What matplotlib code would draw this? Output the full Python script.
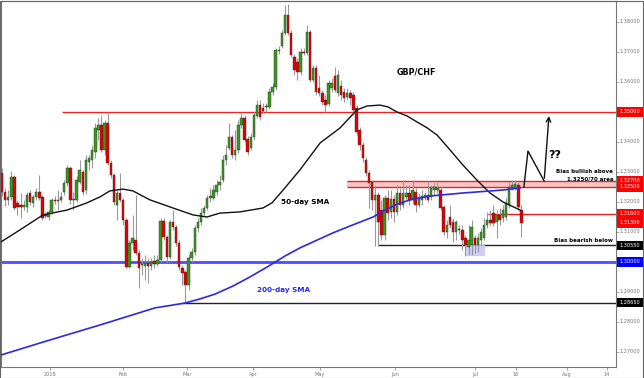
# ============================================================
# GBP/CHF daily candlestick chart with SMAs and key levels
# ============================================================

import matplotlib.pyplot as plt
from matplotlib.patches import Rectangle

# -----------------------------
# 1. Candle data
# -----------------------------
opens = [
    1.3296, 1.3233, 1.3206, 1.3216, 1.3283, 1.3196, 1.3190, 1.3183, 1.3183, 1.3230,
    1.3196, 1.3216, 1.3233, 1.3216, 1.3156, 1.3150, 1.3166, 1.3206, 1.3206, 1.3206,
    1.3233, 1.3263, 1.3313, 1.3206, 1.3206, 1.3266, 1.3300, 1.3240, 1.3333, 1.3340,
    1.3366, 1.3440, 1.3456, 1.3373, 1.3463, 1.3330, 1.3290, 1.3190, 1.3230, 1.3206,
    1.3140, 1.2983, 1.3063, 1.3073, 1.3030, 1.2990, 1.2986, 1.2996, 1.2986, 1.3003,
    1.2993, 1.3006, 1.3136, 1.3083, 1.3016, 1.3133, 1.3116, 1.3063, 1.2980, 1.2966,
    1.2923, 1.3013, 1.3033, 1.3113, 1.3133, 1.3163, 1.3180, 1.3213, 1.3213, 1.3233,
    1.3256, 1.3273, 1.3340, 1.3380, 1.3416, 1.3356, 1.3373, 1.3456, 1.3480, 1.3410,
    1.3380, 1.3416, 1.3486, 1.3523, 1.3513, 1.3516, 1.3516, 1.3566, 1.3583, 1.3703,
    1.3720, 1.3763, 1.3823, 1.3763, 1.3683, 1.3666, 1.3633, 1.3700, 1.3696, 1.3766,
    1.3606, 1.3646, 1.3580, 1.3563, 1.3540, 1.3526, 1.3580, 1.3620, 1.3563, 1.3586,
    1.3566, 1.3550, 1.3563, 1.3556, 1.3513, 1.3440, 1.3390, 1.3340, 1.3296, 1.3266,
    1.3206, 1.3223, 1.3173, 1.3090, 1.3213, 1.3166, 1.3210, 1.3166, 1.3230, 1.3190,
    1.3216, 1.3230, 1.3206, 1.3233, 1.3190, 1.3206, 1.3213, 1.3223, 1.3216, 1.3240,
    1.3240, 1.3240, 1.3183, 1.3100, 1.3150, 1.3133, 1.3100, 1.3110, 1.3106, 1.3080,
    1.3050, 1.3056, 1.3080, 1.3056, 1.3073, 1.3080, 1.3123, 1.3140, 1.3163, 1.3133,
    1.3156, 1.3146, 1.3150, 1.3190, 1.3246, 1.3250, 1.3256, 1.3173,
]
highs = [
    1.3313, 1.3246, 1.3240, 1.3303, 1.3290, 1.3206, 1.3230, 1.3206, 1.3233, 1.3240,
    1.3223, 1.3246, 1.3290, 1.3223, 1.3166, 1.3173, 1.3213, 1.3220, 1.3240, 1.3233,
    1.3273, 1.3323, 1.3320, 1.3233, 1.3286, 1.3340, 1.3306, 1.3356, 1.3356, 1.3390,
    1.3463, 1.3480, 1.3490, 1.3473, 1.3496, 1.3340, 1.3296, 1.3240, 1.3296, 1.3213,
    1.3146, 1.3073, 1.3156, 1.3223, 1.3040, 1.3013, 1.3023, 1.3013, 1.3013, 1.3023,
    1.3023, 1.3146, 1.3146, 1.3090, 1.3140, 1.3173, 1.3123, 1.3073, 1.2990, 1.2973,
    1.3023, 1.3046, 1.3123, 1.3146, 1.3180, 1.3190, 1.3223, 1.3246, 1.3256, 1.3273,
    1.3290, 1.3356, 1.3390, 1.3463, 1.3423, 1.3440, 1.3473, 1.3496, 1.3490, 1.3420,
    1.3430, 1.3500, 1.3540, 1.3540, 1.3530, 1.3530, 1.3580, 1.3596, 1.3713, 1.3720,
    1.3773, 1.3856, 1.3860, 1.3773, 1.3693, 1.3680, 1.3713, 1.3713, 1.3790, 1.3773,
    1.3656, 1.3656, 1.3623, 1.3573, 1.3556, 1.3606, 1.3613, 1.3650, 1.3640, 1.3606,
    1.3580, 1.3580, 1.3573, 1.3566, 1.3523, 1.3450, 1.3400, 1.3350, 1.3306, 1.3273,
    1.3256, 1.3233, 1.3206, 1.3223, 1.3240, 1.3240, 1.3223, 1.3256, 1.3246, 1.3273,
    1.3256, 1.3256, 1.3273, 1.3246, 1.3230, 1.3240, 1.3233, 1.3270, 1.3256, 1.3263,
    1.3266, 1.3250, 1.3190, 1.3140, 1.3190, 1.3146, 1.3140, 1.3123, 1.3123, 1.3090,
    1.3123, 1.3140, 1.3090, 1.3096, 1.3113, 1.3146, 1.3166, 1.3173, 1.3190, 1.3173,
    1.3180, 1.3190, 1.3213, 1.3266, 1.3273, 1.3273, 1.3266, 1.3190,
]
lows = [
    1.3220, 1.3186, 1.3190, 1.3206, 1.3173, 1.3156, 1.3146, 1.3173, 1.3166, 1.3190,
    1.3183, 1.3206, 1.3206, 1.3140, 1.3146, 1.3140, 1.3160, 1.3193, 1.3173, 1.3200,
    1.3223, 1.3253, 1.3193, 1.3173, 1.3200, 1.3260, 1.3223, 1.3226, 1.3306, 1.3313,
    1.3346, 1.3406, 1.3366, 1.3356, 1.3323, 1.3280, 1.3190, 1.3140, 1.3200, 1.3123,
    1.2980, 1.2980, 1.3040, 1.3023, 1.2913, 1.2956, 1.2940, 1.2930, 1.2973, 1.2980,
    1.2986, 1.3000, 1.3073, 1.3000, 1.3010, 1.3106, 1.3053, 1.2973, 1.2923, 1.2863,
    1.2906, 1.3000, 1.3023, 1.3100, 1.3123, 1.3153, 1.3173, 1.3200, 1.3206, 1.3223,
    1.3240, 1.3266, 1.3323, 1.3373, 1.3346, 1.3340, 1.3363, 1.3446, 1.3400, 1.3356,
    1.3373, 1.3406, 1.3480, 1.3473, 1.3496, 1.3500, 1.3510, 1.3556, 1.3573, 1.3693,
    1.3713, 1.3756, 1.3756, 1.3683, 1.3623, 1.3606, 1.3623, 1.3690, 1.3690, 1.3600,
    1.3600, 1.3556, 1.3553, 1.3523, 1.3500, 1.3520, 1.3566, 1.3566, 1.3553, 1.3540,
    1.3533, 1.3540, 1.3523, 1.3490, 1.3423, 1.3373, 1.3333, 1.3286, 1.3180, 1.3173,
    1.3053, 1.3053, 1.3073, 1.3073, 1.3140, 1.3146, 1.3133, 1.3156, 1.3173, 1.3180,
    1.3206, 1.3190, 1.3196, 1.3166, 1.3183, 1.3190, 1.3206, 1.3200, 1.3206, 1.3223,
    1.3230, 1.3173, 1.3090, 1.3080, 1.3113, 1.3066, 1.3073, 1.3093, 1.3040, 1.3020,
    1.3023, 1.3023, 1.3030, 1.3033, 1.3056, 1.3073, 1.3113, 1.3120, 1.3120, 1.3080,
    1.3123, 1.3133, 1.3140, 1.3180, 1.3240, 1.3240, 1.3173, 1.3083,
]
closes = [
    1.3233, 1.3206, 1.3216, 1.3283, 1.3180, 1.3183, 1.3183, 1.3190, 1.3223, 1.3200,
    1.3216, 1.3233, 1.3213, 1.3146, 1.3153, 1.3166, 1.3206, 1.3203, 1.3204, 1.3216,
    1.3263, 1.3313, 1.3206, 1.3210, 1.3273, 1.3306, 1.3233, 1.3340, 1.3346, 1.3373,
    1.3446, 1.3456, 1.3373, 1.3463, 1.3330, 1.3290, 1.3200, 1.3230, 1.3206, 1.3140,
    1.2983, 1.3063, 1.3080, 1.3030, 1.2980, 1.2993, 1.2996, 1.2986, 1.3000, 1.2993,
    1.3006, 1.3136, 1.3083, 1.3016, 1.3133, 1.3116, 1.3063, 1.2983, 1.2963, 1.2923,
    1.3013, 1.3033, 1.3113, 1.3133, 1.3163, 1.3180, 1.3213, 1.3220, 1.3240, 1.3256,
    1.3266, 1.3340, 1.3356, 1.3416, 1.3356, 1.3373, 1.3456, 1.3480, 1.3406, 1.3366,
    1.3416, 1.3490, 1.3523, 1.3483, 1.3503, 1.3520, 1.3566, 1.3583, 1.3706, 1.3706,
    1.3763, 1.3823, 1.3763, 1.3690, 1.3640, 1.3633, 1.3700, 1.3696, 1.3766, 1.3606,
    1.3646, 1.3566, 1.3563, 1.3533, 1.3523, 1.3596, 1.3596, 1.3573, 1.3623, 1.3556,
    1.3546, 1.3563, 1.3546, 1.3506, 1.3433, 1.3390, 1.3346, 1.3296, 1.3263, 1.3206,
    1.3223, 1.3133, 1.3090, 1.3213, 1.3163, 1.3210, 1.3166, 1.3230, 1.3190, 1.3230,
    1.3230, 1.3206, 1.3240, 1.3190, 1.3213, 1.3220, 1.3223, 1.3206, 1.3246, 1.3250,
    1.3246, 1.3180, 1.3100, 1.3123, 1.3123, 1.3100, 1.3133, 1.3106, 1.3073, 1.3056,
    1.3073, 1.3116, 1.3056, 1.3080, 1.3100, 1.3123, 1.3140, 1.3130, 1.3130, 1.3156,
    1.3140, 1.3173, 1.3196, 1.3250, 1.3256, 1.3260, 1.3183, 1.3130,
]

# Moving averages, read at bar index positions
sma50_idx = [-0.3, 5.8, 13.2, 20.9, 27.3, 31.5, 34.7, 38.9, 42.1, 47.6, 55.0, 61.4,
             65.9, 70.1, 76.5, 83.9, 86.8, 90.4, 95.8, 102.3, 108.7, 114.1, 117.4,
             121.5, 124.1, 127.0, 130.2, 133.4, 136.7, 139.9, 144.1, 148.2, 152.7,
             156.9, 161.1, 166.6]
sma50_val = [1.3067, 1.3107, 1.3157, 1.3173, 1.3197, 1.3217, 1.3237, 1.3243, 1.3237,
             1.3207, 1.3180, 1.3157, 1.3150, 1.3163, 1.3167, 1.3180, 1.3197, 1.3240,
             1.3307, 1.3397, 1.3447, 1.3507, 1.3520, 1.3523, 1.3517, 1.3500, 1.3487,
             1.3467, 1.3447, 1.3423, 1.3373, 1.3323, 1.3273, 1.3230, 1.3200, 1.3173]

sma200_idx = [-0.3, 15.4, 31.5, 49.2, 58.8, 63.7, 68.5, 74.3, 79.7, 85.2, 91.0, 95.8,
              101.3, 106.4, 111.9, 119.3, 123.2, 127.0, 132.2, 137.6, 148.2, 161.1,
              166.6]
sma200_val = [1.2690, 1.2740, 1.2790, 1.2847, 1.2863, 1.2877, 1.2893, 1.2920, 1.2950,
              1.2983, 1.3020, 1.3047, 1.3073, 1.3097, 1.3120, 1.3150, 1.3173, 1.3193,
              1.3210, 1.3220, 1.3230, 1.3240, 1.3247]

# Key levels
res_level = 1.35
band_low, band_high = 1.3250, 1.3270
mid_level = 1.3160
current_price = 1.3130
support_level = 1.3055
round_level = 1.30
low_level = 1.2865

# Scenario path (arrow)
path_idx = [167.8, 169.1, 174.3, 175.9]
path_val = [1.3250, 1.3370, 1.3270, 1.3496]

# Axis labels
xtick_pos = [15.4, 38.9, 59.5, 80.7, 102.3, 126.4, 152.1, 165.3, 181.7, 194.5]
xtick_labels = ["2018", "Feb", "Mar", "Apr", "May", "Jun", "Jul", "16", "Aug", "14"]
ytick_vals = [1.27, 1.28, 1.29, 1.31, 1.32, 1.33, 1.34, 1.36, 1.37, 1.38]

# -----------------------------
# 2. Figure
# -----------------------------
fig = plt.figure(figsize=(6.44, 3.78), dpi=100)
ax = fig.add_axes([1 / 644, 11 / 378, 615 / 644, 366 / 378])

ax.set_xlim(-0.3, 197.4)
ax.set_ylim(1.2650, 1.3870)

# -----------------------------
# 3. Levels
# -----------------------------
ax.axhline(round_level, color="#4d4dff", lw=2.0, zorder=1)
ax.hlines(res_level, 19.3, 197.4, color="#ee2222", lw=1.0, zorder=1)
ax.add_patch(Rectangle((110.9, band_low), 197.4 - 110.9, band_high - band_low,
                       facecolor="#f7b9b9", edgecolor="none", alpha=0.8, zorder=1))
ax.hlines([band_low, band_high], 110.9, 197.4, color="#ee2222", lw=1.0, zorder=1)
ax.hlines(mid_level, 156.3, 197.4, color="#ee2222", lw=1.0, zorder=1)
ax.hlines(support_level, 120.9, 197.4, color="#222222", lw=1.0, zorder=1)
ax.hlines(low_level, 57.9, 197.4, color="#222222", lw=1.0, zorder=1)
ax.add_patch(Rectangle((148.9, 1.3020), 6.4, 0.0036, facecolor="#c8c8f4",
                       edgecolor="none", alpha=0.9, zorder=1))

# -----------------------------
# 4. Candles
# -----------------------------
for i in range(len(closes)):
    o, h, l, c = opens[i], highs[i], lows[i], closes[i]
    col = "#3a9a1c" if c >= o else "#e50000"
    ax.vlines(i, l, h, color="#9a9a9a", lw=0.8, zorder=2)
    body = max(abs(c - o), 0.00012)
    ax.bar(i, body, bottom=min(o, c), width=0.8, color=col,
           edgecolor="#333333", linewidth=0.3, zorder=3)

# -----------------------------
# 5. Moving averages and path
# -----------------------------
ax.plot(sma50_idx, sma50_val, color="#111111", lw=1.0, zorder=4)
ax.plot(sma200_idx, sma200_val, color="#2a2ae0", lw=1.2, zorder=4)

ax.plot(path_idx[:-1], path_val[:-1], color="#111111", lw=1.0, zorder=5)
ax.annotate("", xy=(path_idx[-1], path_val[-1]), xytext=(path_idx[-2], path_val[-2]),
            arrowprops=dict(arrowstyle="->", color="#111111", lw=1.0,
                            mutation_scale=8), zorder=5)

# -----------------------------
# 6. Text
# -----------------------------
bold = dict(fontweight="bold", family="DejaVu Sans")
ax.text(127.0, 1.3633, "GBP/CHF", fontsize=5.8, ha="left", va="center", **bold)
ax.text(177.8, 1.3356, "??", fontsize=8, ha="center", va="center", **bold)
ax.text(196.5, 1.3300, "Bias bullish above", fontsize=4.0, ha="right",
        va="center", **bold)
ax.text(196.5, 1.3277, "1.3250/70 area", fontsize=4.0, ha="right", va="center", **bold)
ax.text(196.3, 1.3072, "Bias bearish below", fontsize=4.0, ha="right",
        va="center", **bold)
ax.text(97.4, 1.3200, "50-day SMA", fontsize=5.2, ha="center", va="center", **bold)
ax.text(90.4, 1.2907, "200-day SMA", fontsize=5.2, ha="center", va="center",
        color="#2a2ae0", **bold)

# -----------------------------
# 7. Axes styling
# -----------------------------
for side in ["top", "left", "right", "bottom"]:
    ax.spines[side].set_color("#777777")
    ax.spines[side].set_linewidth(0.8)

ax.set_xticks(xtick_pos)
ax.set_xticklabels(xtick_labels)
ax.tick_params(axis="x", length=2, width=0.5, colors="#777777", labelsize=3.6, pad=1.5)

ax.yaxis.tick_right()
ax.set_yticks(ytick_vals)
ax.set_yticklabels([])
ax.tick_params(axis="y", length=2, width=0.5, colors="#888888")

ytr = ax.get_yaxis_transform()
for v in ytick_vals:
    ax.text(1.006, v, f"{v:.5f}", transform=ytr, fontsize=3.6,
            color="#777777", ha="left", va="center", clip_on=False)

boxes = [
    (res_level, "#ff0000"),
    (band_high, "#ff0000"),
    (band_low, "#ff0000"),
    (mid_level, "#ff0000"),
    (current_price, "#ff0000"),
    (support_level, "#000000"),
    (round_level, "#0000ff"),
    (low_level, "#000000"),
]
for v, fc in boxes:
    ax.text(1.006, v, f"{v:.5f}", transform=ytr, fontsize=3.6, color="white",
            ha="left", va="center", clip_on=False,
            bbox=dict(boxstyle="square,pad=0.45", fc=fc, ec="none"))

# outer frame
fig.patches.append(Rectangle((0.0005, 0.001), 0.998, 0.997, transform=fig.transFigure,
                             fill=False, edgecolor="#666666", lw=0.8))

fig.savefig("out.png", dpi=100)
